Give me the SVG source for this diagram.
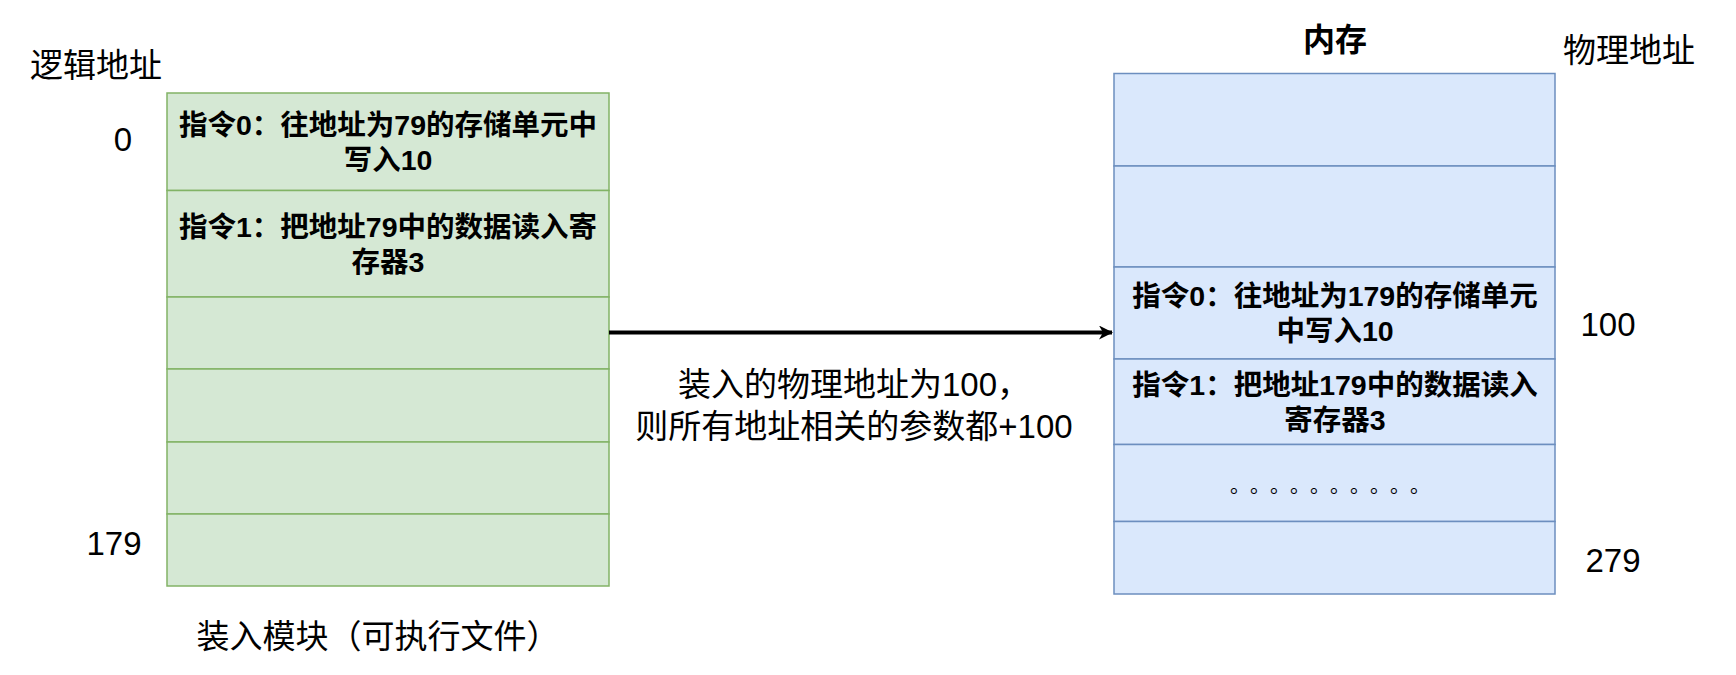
<svg xmlns="http://www.w3.org/2000/svg" width="1736" height="675" viewBox="0 0 1736 675">
<style>
.t{font-family:"Liberation Sans","Noto Sans CJK SC",sans-serif;font-size:33px;fill:#000}
.b{font-family:"Liberation Sans","Noto Sans CJK SC",sans-serif;font-size:28.5px;font-weight:bold;fill:#000;text-anchor:middle}
.g{fill:#d5e8d4;stroke:#82b366;stroke-width:1.5}
.u{fill:#dae8fc;stroke:#6c8ebf;stroke-width:1.5}
</style>
<defs><marker id="ah" markerWidth="14" markerHeight="14" refX="13" refY="7" orient="auto" markerUnits="userSpaceOnUse" viewBox="0 0 14 14"><path d="M0,0 L14,7 L0,14 L4,7 Z" fill="#000"/></marker></defs>
<rect width="1736" height="675" fill="#fff"/>
<text class="t" x="30" y="77">逻辑地址</text>
<text class="t" x="123" y="151" text-anchor="middle">0</text>
<text class="t" x="114" y="555" text-anchor="middle">179</text>
<text class="t" x="378" y="648" text-anchor="middle">装入模块（可执行文件）</text>
<g id="left">
<rect class="g" x="167" y="93" width="442" height="97.5"/>
<rect class="g" x="167" y="190.5" width="442" height="106.5"/>
<rect class="g" x="167" y="297" width="442" height="72"/>
<rect class="g" x="167" y="369" width="442" height="73"/>
<rect class="g" x="167" y="442" width="442" height="72"/>
<rect class="g" x="167" y="514" width="442" height="72"/>
<text class="b" x="388" y="135">指令0：往地址为79的存储单元中</text>
<text class="b" x="388" y="170">写入10</text>
<text class="b" x="388" y="237">指令1：把地址79中的数据读入寄</text>
<text class="b" x="388" y="272">存器3</text>
</g>
<g id="connectors">
<line x1="609" y1="332.5" x2="1112" y2="332.5" stroke="#000" stroke-width="4" marker-end="url(#ah)"/>
</g>
<text class="t" x="854" y="396" text-anchor="middle">装入的物理地址为100，</text>
<text class="t" x="854" y="438" text-anchor="middle">则所有地址相关的参数都+100</text>
<text x="1335" y="51" text-anchor="middle" style="font-family:'Liberation Sans','Noto Sans CJK SC',sans-serif;font-size:32px;font-weight:bold">内存</text>
<text class="t" x="1563" y="62">物理地址</text>
<text class="t" x="1608" y="336" text-anchor="middle">100</text>
<text class="t" x="1613" y="572" text-anchor="middle">279</text>
<g id="right">
<rect class="u" x="1114" y="73.5" width="441" height="92.5"/>
<rect class="u" x="1114" y="166" width="441" height="101"/>
<rect class="u" x="1114" y="267" width="441" height="92"/>
<rect class="u" x="1114" y="359" width="441" height="85.5"/>
<rect class="u" x="1114" y="444.5" width="441" height="77"/>
<rect class="u" x="1114" y="521.5" width="441" height="72.5"/>
<text class="b" x="1335" y="306">指令0：往地址为179的存储单元</text>
<text class="b" x="1335" y="341">中写入10</text>
<text class="b" x="1335" y="395">指令1：把地址179中的数据读入</text>
<text class="b" x="1335" y="430">寄存器3</text>
<text x="1335" y="493" text-anchor="middle" style="font-family:'Liberation Sans','Noto Sans CJK SC',sans-serif;font-size:20px;letter-spacing:10px">。。。。。。。。。。</text>
</g>
</svg>
